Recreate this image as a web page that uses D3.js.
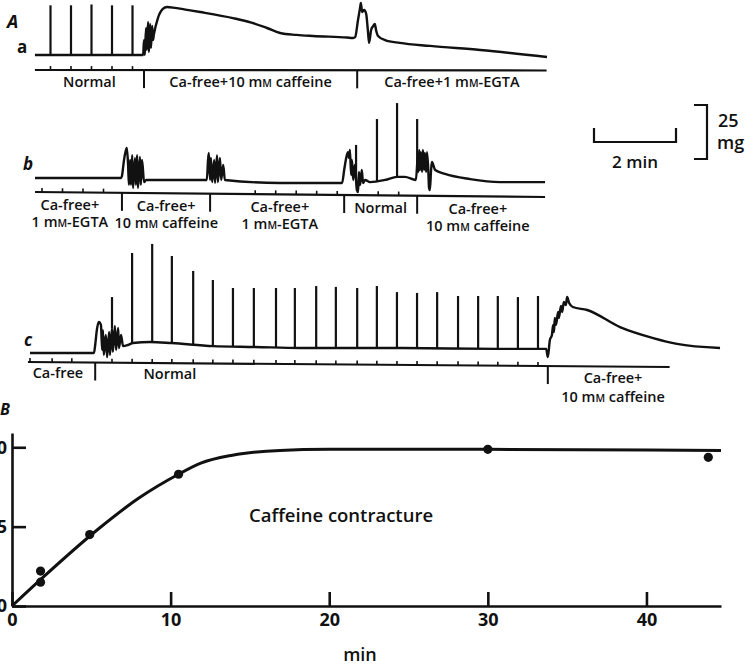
<!DOCTYPE html>
<html>
<head>
<meta charset="utf-8">
<script src="https://cdn.jsdelivr.net/npm/d3@7"></script>
<style>
  body { margin: 0; background: #fff; }
  svg text { font-family: "Open Sans", Lato, "DejaVu Sans", sans-serif; font-weight: 600; fill: #111; }
</style>
</head>
<body>
<svg id="fig" width="751" height="665"></svg>
<script>

// ---- Panel A, trace a (time in min, tension in mg) ----
var aAxis = [0.12, 12.6]
var aDividers = [2.78, 7.98]
var aTicks = [0.5, 1, 1.5, 2, 2.5]
var aStim = [[0.5, 23], [1, 23], [1.5, 23.4], [2, 23], [2.5, 23]]
var aTrace = [[0.12,0],[2.76,0],[2.78,6.9],[2.80,0],[2.83,12.5],[2.85,2.3],[2.88,15.3],[2.90,1.4],[2.93,14.4],
  [2.95,3.2],[2.98,13.4],[3.00,6.9],[3.02,9.3],[3.12,17.1],[3.24,21.3],[3.34,22.2],[3.54,21.8],[3.83,20.9],
  [4.15,19.9],[4.95,17.1],[5.4,15],[5.78,12.5],[6.10,10.2],[6.5,9.3],[6.90,8.8],[7.73,8.1],[7.88,7.9],
  [7.93,8.3],[8.00,16.2],[8.05,21.8],[8.07,24.1],[8.10,19.9],[8.15,20.8],[8.20,19.0],[8.24,11.6],[8.27,5.6],
  [8.32,11.6],[8.37,13.4],[8.41,14.4],[8.44,11.6],[8.49,8.8],[8.66,6.9],[9.02,5.6],[9.76,4.2],[10.98,2.3],[12.61,-0.9]]
var aLabelTimes = [1.45, 5.38, 10.29]
var aLabelText = [["Normal"], ["Ca-free+10 mM caffeine"], ["Ca-free+1 mM-EGTA"]]

// ---- trace b ----
var bAxis = [0.33, 12.77]
var bDividers = [2.45, 4.60, 7.87, 9.65]
var bTicks = [0.5, 1, 1.5, 2, 5.7, 6.2, 6.7, 7.2, 7.7, 8.7, 9.2]
var bStim = [[8.16, 15.3], [8.67, 27.3], [9.16, 34.7], [9.65, 27.3]]
var bTrace = [[0.33,0],[2.43,0],[2.45,0.9],[2.50,8.3],[2.55,13.0],[2.57,13.9],[2.60,6.0],[2.62,-3.2],[2.65,8.3],
  [2.67,-3.2],[2.70,10.6],[2.72,-4.6],[2.77,9.3],[2.79,-3.2],[2.82,10.6],[2.84,-4.6],[2.89,9.7],[2.91,-3.2],
  [2.94,8.3],[2.99,-1.9],[3.04,-0.9],[4.52,-0.9],[4.55,8.3],[4.57,11.6],[4.60,-0.9],[4.62,9.3],[4.65,-1.9],
  [4.70,8.3],[4.72,-2.3],[4.77,10.6],[4.79,-1.9],[4.84,9.3],[4.87,-0.9],[4.92,6.0],[4.96,-0.9],[6.3,-2.3],
  [7.82,-2.3],[7.87,3.7],[7.91,8.3],[7.96,12.0],[7.99,9.3],[8.01,13.0],[8.04,1.4],[8.06,8.3],[8.09,-0.9],
  [8.13,6.0],[8.18,-5.6],[8.21,-6.5],[8.23,2.8],[8.26,-3.2],[8.30,3.7],[8.33,-2.3],[8.38,-0.9],[8.50,-1.9],
  [8.87,-0.9],[9.16,0.5],[9.35,0.5],[9.62,-0.9],[9.67,10.6],[9.68,2.8],[9.70,13.0],[9.72,3.7],[9.74,12.0],
  [9.77,2.8],[9.79,13.0],[9.82,3.7],[9.84,11.6],[9.87,2.8],[9.89,12.0],[9.92,4.6],[9.94,-4.6],[9.96,-5.6],
  [9.99,3.7],[10.01,7.4],[10.09,3.7],[10.33,1.9],[10.94,-0.5],[11.67,-1.9],[12.77,-1.9]]
var bLabelTimes = [1.18, 3.53, 6.30, 8.76, 11.13]
var bLabelText = [["Ca-free+", "1 mM-EGTA"], ["Ca-free+", "10 mM caffeine"], ["Ca-free+", "1 mM-EGTA"],
  ["Normal"], ["Ca-free+", "10 mM caffeine"]]

// ---- trace c ----
var cAxis = [-0.05, 15.6]
var cDividers = [1.59, 12.63]
var cTicks = [0, 0.54, 1.02, 2.0, 2.49, 2.98, 3.46, 3.98, 4.46, 4.95, 5.46, 6.0, 6.46, 6.98, 7.46, 7.98,
  8.46, 8.95, 9.44, 9.93, 10.44, 10.93, 11.41, 11.90, 12.39]
var cStim = [[2.0,25.9],[2.49,46.3],[2.98,50.5],[3.46,44.9],[3.98,38.0],[4.46,33.8],[4.95,30.1],[5.46,30.1],
  [6.0,30.1],[6.46,30.1],[6.98,31.0],[7.46,30.6],[7.98,30.1],[8.46,31.0],[8.95,28.2],[9.44,27.8],[9.93,28.2],
  [10.44,26.4],[10.93,26.4],[11.41,26.4],[11.90,25.9],[12.39,26.4]]
var cTrace = [[0,0],[1.56,0],[1.59,3.7],[1.63,10.6],[1.68,14.4],[1.73,13.0],[1.76,1.4],[1.78,10.6],[1.80,-0.9],
  [1.85,8.3],[1.88,-1.9],[1.93,9.7],[1.95,-0.9],[2.0,11.6],[2.02,0.5],[2.07,12.5],[2.10,1.4],[2.15,11.6],
  [2.17,2.3],[2.22,8.3],[2.27,3.2],[2.39,3.7],[2.51,4.6],[2.93,5.1],[3.46,4.6],[4.46,3.2],[5.49,2.8],
  [6.59,2.3],[9.02,2.3],[11.46,1.9],[12.59,1.9],[12.63,-1.9],[12.68,6.0],[12.73,8.3],[12.76,13.0],[12.78,9.7],
  [12.80,16.2],[12.83,13.0],[12.88,19.0],[12.90,16.2],[12.95,21.8],[12.98,19.0],[13.02,23.6],[13.07,22.2],
  [13.10,25.9],[13.15,23.1],[13.24,21.3],[13.59,19.9],[14.39,12.0],[15.2,6.9],[15.78,4.2],[16.83,2.3]]
var cLabelTimes = [0.68, 3.41, 14.22]
var cLabelText = [["Ca-free"], ["Normal"], ["Ca-free+", "10 mM caffeine"]]

// ---- Panel B ----
var curveTime = [0, 2, 5.5, 8, 10.5, 11.9, 13.9, 16.9, 20, 25, 30, 44.7]
var curveValue = [0, 1.85, 4.9, 6.8, 8.3, 9.0, 9.5, 9.8, 9.87, 9.88, 9.87, 9.8]
var pointTime = [1.8, 1.8, 4.9, 10.5, 30, 43.9]
var pointValue = [2.2, 1.5, 4.5, 8.3, 9.87, 9.37]
var xTickValues = [0, 10, 20, 30, 40]
var yTickValues = [0, 5, 10]

var svg = d3.select("#fig")
var minPx = 41, mgPx = 54 / 25

// write a label, "mM" gets a small-capital M
function addText(sel, str) {
  str.split(/(mM)/).forEach(function(p) {
    if (p == "mM") {
      sel.append("tspan").text("m")
      sel.append("tspan").attr("font-size", "0.72em").text("M")
    } else if (p) {
      sel.append("tspan").text(p)
    }
  })
}

function levelAt(trace, t) {
  var i = d3.bisector(function(d) { return d[0] }).left(trace, t)
  if (i <= 0) return trace[0][1]
  if (i >= trace.length) return trace[trace.length - 1][1]
  var a = trace[i - 1], b = trace[i]
  return a[1] + (b[1] - a[1]) * (t - a[0]) / (b[0] - a[0])
}

function drawRow(r) {
  var x = d3.scaleLinear().domain([0, 1]).range([r.x0, r.x0 + minPx])
  var y = d3.scaleLinear().domain([0, 25]).range([r.y0, r.y0 - 25 * mgPx])
  // the time base is a little tilted in the print
  var axY = d3.scaleLinear().domain(r.axis).range(r.axisY)
  var g = svg.append("g")

  g.append("line")
    .attr("x1", x(r.axis[0])).attr("y1", axY(r.axis[0]))
    .attr("x2", x(r.axis[1])).attr("y2", axY(r.axis[1]))
    .attr("stroke", "#111").attr("stroke-width", 2.2)

  g.selectAll(".tk").data(r.ticks).enter().append("line")
    .attr("x1", d => x(d)).attr("x2", d => x(d))
    .attr("y1", d => axY(d)).attr("y2", d => axY(d) - 4)
    .attr("stroke", "#111").attr("stroke-width", 1.6)

  g.selectAll(".dv").data(r.dividers).enter().append("line")
    .attr("x1", d => x(d)).attr("x2", d => x(d))
    .attr("y1", d => axY(d)).attr("y2", d => axY(d) + r.divLen)
    .attr("stroke", "#111").attr("stroke-width", 2)

  g.append("path")
    .datum(r.trace)
    .attr("d", d3.line().x(d => x(d[0])).y(d => y(d[1])).curve(d3.curveMonotoneX))
    .attr("fill", "none").attr("stroke", "#111").attr("stroke-width", 2.4)
    .attr("stroke-linejoin", "round")

  g.selectAll(".sp").data(r.stim).enter().append("line")
    .attr("x1", d => x(d[0])).attr("x2", d => x(d[0]))
    .attr("y1", d => y(levelAt(r.trace, d[0]))).attr("y2", d => y(d[1]))
    .attr("stroke", "#111").attr("stroke-width", 2.2)

  r.labelTimes.forEach(function(t, i) {
    r.labelText[i].forEach(function(line, j) {
      var tx = g.append("text")
        .attr("x", x(t)).attr("y", axY(t) + r.labelDy[j])
        .attr("text-anchor", "middle").attr("font-size", 14.5)
      addText(tx, line)
    })
  })

  svg.append("text")
    .attr("x", r.name[1]).attr("y", r.name[2])
    .attr("font-size", 17).attr("font-style", r.name[3]).style("font-weight", "bold")
    .text(r.name[0])
}

drawRow({ x0: 30, y0: 55, axis: aAxis, axisY: [70, 70.5], divLen: 18, ticks: aTicks, dividers: aDividers,
  trace: aTrace, stim: aStim, labelTimes: aLabelTimes, labelText: aLabelText, labelDy: [17, 34],
  name: ["a", 17, 53, "normal"] })
drawRow({ x0: 21.5, y0: 178, axis: bAxis, axisY: [192, 197], divLen: 18, ticks: bTicks, dividers: bDividers,
  trace: bTrace, stim: bStim, labelTimes: bLabelTimes, labelText: bLabelText, labelDy: [18, 35],
  name: ["b", 23, 170, "italic"] })
drawRow({ x0: 30, y0: 353, axis: cAxis, axisY: [362, 367], divLen: 18, ticks: cTicks, dividers: cDividers,
  trace: cTrace, stim: cStim, labelTimes: cLabelTimes, labelText: cLabelText, labelDy: [16, 35],
  name: ["c", 24, 346, "italic"] })

svg.append("text").attr("x", 7).attr("y", 28).attr("font-size", 18).attr("font-style", "italic")
  .style("font-weight", "bold").text("A")

// scale bars: 2 min and 25 mg
var sx = d3.scaleLinear().domain([0, 2]).range([594, 594 + 2 * minPx])
var sy = d3.scaleLinear().domain([0, 25]).range([159, 159 - 25 * mgPx])
svg.append("path")
  .attr("d", "M" + sx(0) + ",128V142H" + sx(2) + "V128")
  .attr("fill", "none").attr("stroke", "#111").attr("stroke-width", 2.2)
svg.append("text").attr("x", (sx(0) + sx(2)) / 2).attr("y", 168).attr("text-anchor", "middle")
  .attr("font-size", 17).text("2 min")
svg.append("path")
  .attr("d", "M694," + sy(25) + "H707V" + sy(0) + "H694")
  .attr("fill", "none").attr("stroke", "#111").attr("stroke-width", 2.2)
svg.append("text").attr("x", 718).attr("y", 127).attr("font-size", 18).text("25")
svg.append("text").attr("x", 717).attr("y", 149).attr("font-size", 18).text("mg")

// ---- Panel B plot ----
var bx = d3.scaleLinear().domain([0, 44.7]).range([12, 721])
var by = d3.scaleLinear().domain([0, 10.9]).range([606, 433])

var xAxis = svg.append("g").attr("transform", "translate(0,606)")
  .call(d3.axisBottom(bx).tickValues(xTickValues).tickSize(-14).tickSizeOuter(0).tickPadding(7))
var yAxis = svg.append("g").attr("transform", "translate(12,0)")
  .call(d3.axisLeft(by).tickValues(yTickValues).tickSize(-14).tickSizeOuter(0).tickPadding(5))
;[xAxis, yAxis].forEach(function(a) {
  a.selectAll("path, line").attr("stroke", "#111").attr("stroke-width", 2.6)
  a.selectAll("text").attr("font-size", 18).attr("fill", "#111")
    .style("font-family", "'Open Sans', Lato, 'DejaVu Sans', sans-serif").style("font-weight", "bold")
})

svg.append("path")
  .datum(d3.zip(curveTime, curveValue))
  .attr("d", d3.line().x(d => bx(d[0])).y(d => by(d[1])).curve(d3.curveMonotoneX))
  .attr("fill", "none").attr("stroke", "#111").attr("stroke-width", 3)

svg.selectAll(".pt").data(d3.zip(pointTime, pointValue)).enter().append("circle")
  .attr("cx", d => bx(d[0])).attr("cy", d => by(d[1])).attr("r", 4.6).attr("fill", "#111")

svg.append("text").attr("x", 249).attr("y", 522).attr("font-size", 18.5).text("Caffeine contracture")
svg.append("text").attr("x", 360).attr("y", 661).attr("text-anchor", "middle").attr("font-size", 18).text("min")
svg.append("text").attr("x", 0).attr("y", 415).attr("font-size", 16).attr("font-style", "italic")
  .style("font-weight", "bold").text("B")

</script>
</body>
</html>
